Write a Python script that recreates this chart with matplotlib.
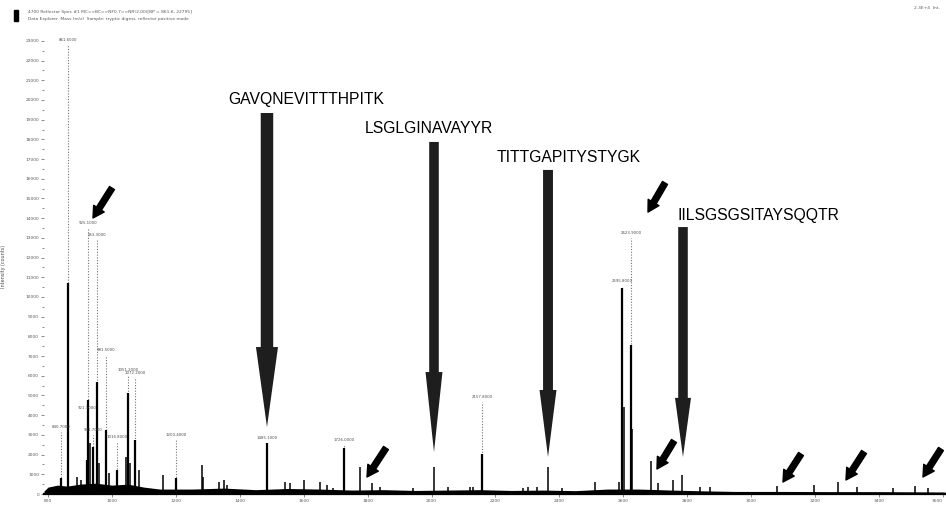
import matplotlib
matplotlib.use("Agg")
import matplotlib.pyplot as plt
from matplotlib.patches import FancyArrow, Rectangle

# labelled peaks: m/z, apex intensity, visible solid body
peak_mz = [840.7, 861.6, 921.1, 925.1, 941.7, 953.3, 981.5, 1016.8, 1051.2,
           1072.2, 1200.4, 1485.1, 1726.0, 2157.8, 2595.8, 2623.9]
peak_apex = [3150, 22790, 4110, 13500, 3000, 12890, 7060, 2640, 6040,
             5890, 2740, 2590, 2490, 4670, 10560, 12990]
peak_body = [810, 10710, 1730, 4770, 2390, 5690, 3250, 1220, 5130,
             2740, 810, 2590, 2340, 2030, 10460, 7560]

# unlabelled minor peaks
small_mz = [889.8, 902.3, 931.4, 960.5, 990.8, 1044.0, 1056.5, 1084.7, 1159.8,
            1281.8, 1284.9, 1335.0, 1350.6, 1360.0, 1541.5, 1557.1, 1600.9,
            1651.0, 1672.9, 1691.6, 1776.1, 1813.6, 1838.7, 1941.9, 2007.6,
            2051.4, 2120.2, 2129.6, 2286.0, 2301.7, 2329.8, 2364.3, 2408.0,
            2511.3, 2586.4, 2602.0, 2628.0, 2686.5, 2708.4, 2755.3, 2783.5,
            2839.8, 2871.1, 3080.7, 3196.4, 3271.5, 3330.9, 3443.6, 3512.4, 3553.1]
small_int = [860, 710, 2590, 1570, 1070, 1880, 1570, 1220, 960,
             1470, 860, 610, 710, 460, 610, 560, 710,
             610, 460, 300, 1370, 560, 360, 300, 1370,
             360, 360, 360, 300, 360, 360, 1370, 300,
             610, 610, 4420, 3300, 1680, 560, 710, 960,
             360, 360, 410, 460, 610, 360, 300, 410, 300]

# baseline noise envelope
base_mz = [787.5, 800, 830, 860, 900, 950, 1000, 1050, 1100, 1150, 1250, 1350,
           1450, 1550, 1650, 1750, 1850, 1950, 2050, 2150, 2250, 2350, 2450,
           2550, 2650, 2750, 2850, 2950, 3100, 3250, 3400, 3606]
base_int = [150, 350, 450, 400, 500, 550, 450, 500, 350, 250, 250, 300,
            220, 280, 250, 200, 220, 180, 200, 220, 180, 200, 170,
            250, 250, 200, 160, 130, 130, 120, 120, 100]

x_ticks = list(range(800, 3601, 200))
y_ticks = list(range(0, 23001, 1000))

peptides = ["GAVQNEVITTTHPITK", "LSGLGINAVAYYR", "TITTGAPITYSTYGK", "IILSGSGSITAYSQQTR"]
peptide_mz = [1485.1, 2007.6, 2364.3, 2786.6]

# (shaft top, tip, head length, shaft width, head width, text x, text y)
big_arrows = [
    (19340, 3400, 4060, 39, 69, 1363, 20000),
    (17870, 2130, 4060, 30, 53, 1792, 18530),
    (16450, 1880, 3400, 31, 53, 2205, 17060),
    (13550, 1880, 3000, 30, 50, 2768, 14160),
]
# small marker arrows: (tail x, tail y, tip x, tip y)
small_arrows = [
    (1000.2, 15530, 940.8, 14010),
    (2730.3, 15790, 2677.1, 14310),
    (1857.4, 2335, 1798.0, 863),
    (2758.4, 2690, 2705.2, 1269),
    (3155.8, 2030, 3099.4, 609),
    (3352.9, 2132, 3296.5, 711),
    (3593.7, 2284, 3537.4, 863),
]

fig = plt.figure(figsize=(9.46, 5.07), dpi=100)
ax = fig.add_axes([44 / 946, 13 / 507, 901 / 946, 456 / 507])

ax.fill_between(base_mz, 0, base_int, color="black", lw=0)
ax.vlines(small_mz, 0, small_int, color="black", lw=1.1)
ax.vlines(peak_mz, 0, peak_apex, color="0.45", lw=0.8, linestyles=(0, (1, 1.5)))
ax.vlines(peak_mz, 0, peak_body, color="black", lw=1.6)
for m, a in zip(peak_mz, peak_apex):
    ax.annotate(f"{m:.4f}", (m, a), xytext=(0, 2), textcoords="offset points",
                ha="center", va="bottom", fontsize=2.8, color="0.3")

for name, m, (top, tip, hl, w, hw, tx, ty) in zip(peptides, peptide_mz, big_arrows):
    ax.add_patch(FancyArrow(m, top, 0, tip - top, width=w, head_width=hw,
                            head_length=hl, length_includes_head=True,
                            color="#1e1e1e", lw=0))
    ax.text(tx, ty, name, fontsize=11.3, family="Liberation Sans",
            ha="left", va="center", color="black")

for x0, y0, x1, y1 in small_arrows:
    ax.annotate("", xy=(x1, y1), xytext=(x0, y0),
                arrowprops=dict(arrowstyle="simple,head_length=0.8,head_width=0.9,tail_width=0.42",
                                fc="black", ec="black", shrinkA=0, shrinkB=0,
                                mutation_scale=10))

ax.set_xlim(787.5, 3606.3)
ax.set_ylim(0, 23147)
ax.set_xticks(x_ticks)
ax.set_xticklabels([str(v) for v in x_ticks], fontsize=3.2, color="0.35")
ax.get_xticklabels()[-1].set_ha("right")
ax.set_yticks(y_ticks)
ax.set_yticklabels([f"{v:.0f}" for v in y_ticks], fontsize=3.2, color="0.35")
ax.set_yticks([v + 500 for v in y_ticks[:-1]], minor=True)
ax.tick_params(axis="both", length=2, width=0.5, pad=1.5, colors="0.35")
ax.tick_params(axis="y", which="minor", length=1.2, width=0.5, colors="0.35")
for s in ["top", "right", "left"]:
    ax.spines[s].set_visible(False)
ax.spines["bottom"].set_linewidth(1.6)
ax.set_ylabel("Intensity (counts)", fontsize=3.5, color="0.3", labelpad=14)

fig.patches.append(Rectangle((14 / 946, 1 - 21 / 507), 4 / 946, 11 / 507,
                             transform=fig.transFigure, color="black"))
fig.text(28 / 946, 1 - 12 / 507,
         "4700 Reflector Spec #1 MC=>BC=>NF0.7=>NR(2.00)[BP = 861.6, 22795]",
         fontsize=3.2, color="0.35", va="center")
fig.text(28 / 946, 1 - 19 / 507,
         "Data Explorer  Mass (m/z)  Sample: tryptic digest, reflector positive mode",
         fontsize=3.2, color="0.35", va="center")
fig.text(940 / 946, 1 - 8 / 507, "2.3E+4  Int.", fontsize=3.2, color="0.35",
         ha="right", va="center")

fig.savefig("out.png", dpi=100)
